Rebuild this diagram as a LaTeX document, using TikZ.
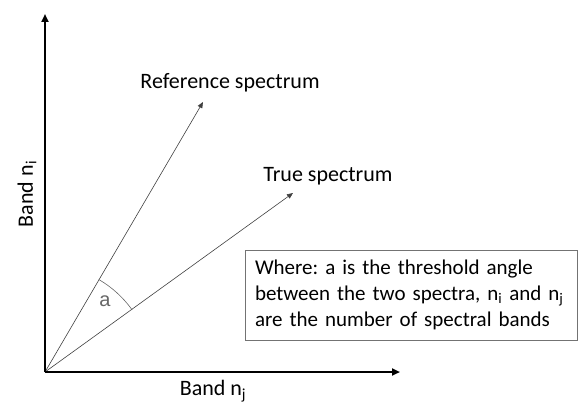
\documentclass[tikz,border=0pt]{standalone}
\usepackage{fontspec}
\setmainfont{Carlito}
\newfontfamily\arialfont{Liberation Sans}
\usetikzlibrary{arrows.meta}
\begin{document}
\frenchspacing
\begin{tikzpicture}[x=1pt,y=-1pt,
  axis/.style={line width=2.4pt,-{Triangle[length=8pt,width=7pt]}},
  spec/.style={line width=0.6pt,draw=black!75,-{Triangle[length=6pt,width=5pt]}},
  lbl/.style={font=\fontsize{22}{26}\selectfont,inner sep=0pt},
  notebox/.style={draw=black!55,line width=0.9pt,minimum width=332pt,minimum height=90pt,
    inner xsep=10pt,inner ysep=4pt,align=left,text width=312pt,
    font=\fontsize{21}{26}\selectfont}]
\useasboundingbox (0,0) rectangle (578,404);
\coordinate (O) at (45,372);
\coordinate (Y) at (45,14);
\coordinate (X) at (400,372);
\coordinate (R) at (203,102);
\coordinate (T) at (293,193);
\draw[spec] (O) -- (R);
\draw[spec] (O) -- (T);
\draw[black!60,line width=0.6pt] ([shift={(-35.5:107)}]O) arc[start angle=-35.5,end angle=-59.8,radius=107];
\draw[axis] (O) -- (Y);
\draw[axis] (O) -- (X);
\node[lbl] (rl) at (230,83) {Reference spectrum};
\node[lbl] (tl) at (328,176) {True spectrum};
\node[font=\arialfont\fontsize{20}{22}\selectfont,text=black!60,inner sep=0pt] (al) at (105,301) {a};
\node[lbl,rotate=90] (yl) at (27,194) {Band n\textsubscript{i}};
\node[lbl] (xl) at (213,391) {Band n\textsubscript{j}};
\node[notebox] (box) at (411,295) {Where: a is the threshold angle\\between the two spectra, n\textsubscript{i} and n\textsubscript{j}\\are the number of spectral bands};
\end{tikzpicture}
\end{document}
